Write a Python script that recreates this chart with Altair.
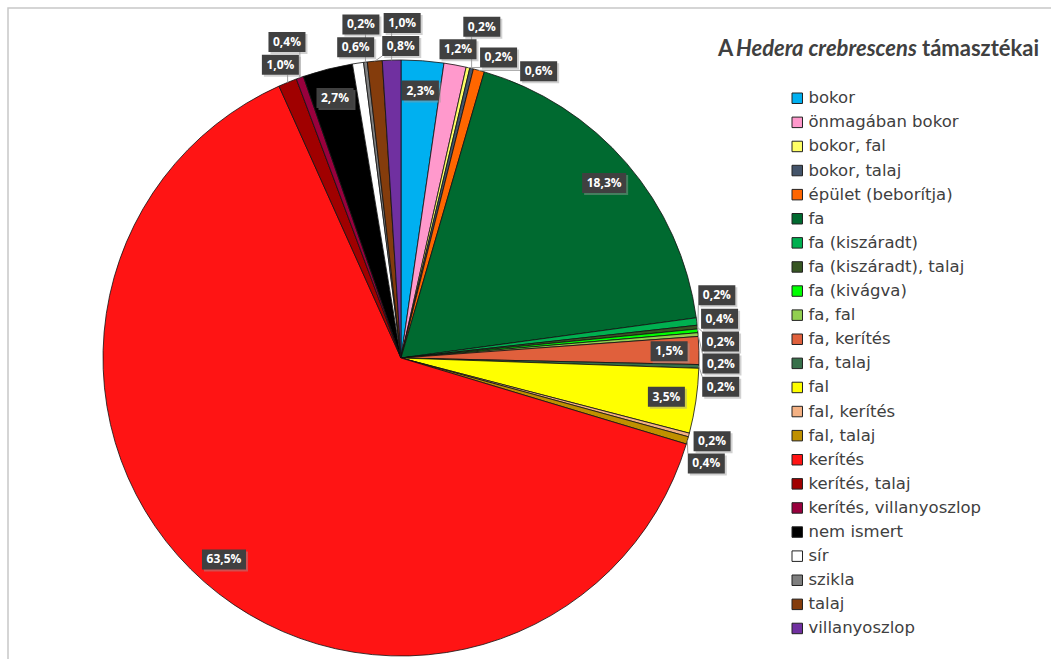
import math
import numpy as np
import pandas as pd
import altair as alt

# ---------------- data ----------------
categories = [
    "bokor", "önmagában bokor", "bokor, fal", "bokor, talaj", "épület (beborítja)",
    "fa", "fa (kiszáradt)", "fa (kiszáradt), talaj", "fa (kivágva)", "fa, fal",
    "fa, kerítés", "fa, talaj", "fal", "fal, kerítés", "fal, talaj", "kerítés",
    "kerítés, talaj", "kerítés, villanyoszlop", "nem ismert", "sír", "szikla",
    "talaj", "villanyoszlop",
]
percent = [2.3, 1.2, 0.2, 0.2, 0.6, 18.3, 0.4, 0.2, 0.2, 0.2, 1.5, 0.2, 3.5,
           0.2, 0.4, 63.5, 1.0, 0.4, 2.7, 0.6, 0.2, 0.8, 1.0]
colors = [
    "#00B0F0", "#FF99CC", "#FFFF66", "#44546A", "#FF6600",
    "#006A30", "#00B050", "#375623", "#00FF00", "#92D050",
    "#E0603C", "#38704A", "#FFFF00", "#F4B183", "#BF9000", "#FF1414",
    "#A00000", "#99003D", "#000000", "#FFFFFF", "#7F7F7F",
    "#843C0C", "#7030A0",
]

# ---------------- layout ----------------
W, H = 1051, 659
CX, CY, R = 401.0, 358.0, 298.0
xs = alt.Scale(domain=[-CX / R, (W - CX) / R], nice=False, zero=False)
ys = alt.Scale(domain=[(CY - H) / R, CY / R], nice=False, zero=False)

def ux(px):
    return (px - CX) / R

def uy(py):
    return (CY - py) / R

def polar(a, r):
    return CX + r * math.sin(a), CY - r * math.cos(a)

total = sum(percent)
mids = []
cum = 0.0
for v in percent:
    a0 = cum / total * 2 * math.pi
    cum += v
    a1 = cum / total * 2 * math.pi
    mids.append((a0 + a1) / 2)

texts = [f"{v:.1f}%".replace(".", ",") for v in percent]
BH = 20

def box_of(cx, cy, w, h):
    return (cx - w / 2, cy - h / 2, cx + w / 2, cy + h / 2)

def overlap(b1, b2, m=2):
    return not (b1[2] + m <= b2[0] or b2[2] + m <= b1[0] or
                b1[3] + m <= b2[1] or b2[3] + m <= b1[1])

def nearest_dist(b):
    nx = min(max(CX, b[0]), b[2])
    ny = min(max(CY, b[1]), b[3])
    return math.hypot(nx - CX, ny - CY)

forbidden = [(700, 20, 1051, 68), (785, 84, 1051, 645)]

placed = [None] * len(percent)
inside = [v >= 1.5 for v in percent]
for i, v in enumerate(percent):
    if inside[i]:
        w = 7 * len(texts[i]) + 9
        cx, cy = polar(mids[i], 0.9 * R)
        placed[i] = box_of(cx, cy, w, BH)

for i, v in enumerate(percent):
    if inside[i]:
        continue
    w = 7 * len(texts[i]) + 9
    best, bestc = None, 1e9
    for dd in np.arange(-30, 30.01, 0.5):
        a = mids[i] + math.radians(dd)
        for rr in range(int(R) - 5, int(R) + 160):
            cx, cy = polar(a, rr)
            b = box_of(cx, cy, w, BH)
            nd = nearest_dist(b)
            if nd < R + 3:
                continue
            if b[0] < 14 or b[1] < 11 or b[3] > 650:
                continue
            if any(overlap(b, f, 0) for f in forbidden):
                continue
            if any(p is not None and overlap(b, p) for p in placed):
                continue
            c = (nd - R) + 4 * abs(dd)
            if c < bestc:
                bestc, best = c, b
            break
    if best is None:
        cx, cy = polar(mids[i], R + 25)
        best = box_of(cx, cy, w, BH)
    placed[i] = best

rows, lines = [], []
for i, b in enumerate(placed):
    rows.append({
        "cat": categories[i], "label": texts[i],
        "cx": ux((b[0] + b[2]) / 2), "cy": uy((b[1] + b[3]) / 2),
        "bx1": ux(b[0]), "bx2": ux(b[2]), "by1": uy(b[1]), "by2": uy(b[3]),
        "sx1": ux(b[0] + 2), "sx2": ux(b[2] + 2), "sy1": uy(b[1] + 2), "sy2": uy(b[3] + 2),
    })
    if not inside[i]:
        px, py = polar(mids[i], R)
        qx = min(max(px, b[0]), b[2])
        qy = min(max(py, b[1]), b[3])
        if math.hypot(qx - px, qy - py) > 6:
            lines.append({"x": ux(px), "y": uy(py), "x2": ux(qx), "y2": uy(qy)})

pie_df = pd.DataFrame({"cat": categories, "value": percent, "idx": list(range(len(percent)))})
lab_df = pd.DataFrame(rows)
line_df = pd.DataFrame(lines)

frame = alt.Chart(pd.DataFrame({"a": [0]})).mark_rect(
    fill=None, stroke="#C8C8C8", strokeWidth=1.5
).encode(x=alt.value(8), x2=alt.value(1070), y=alt.value(8), y2=alt.value(680))

pie = alt.Chart(pie_df).mark_arc(outerRadius=R, stroke="#111111", strokeWidth=0.8).encode(
    theta=alt.Theta("value:Q", stack=True),
    order=alt.Order("idx:Q"),
    color=alt.Color(
        "cat:N",
        scale=alt.Scale(domain=categories, range=colors),
        sort=categories,
        legend=alt.Legend(
            title=None, orient="none", legendX=789, legendY=90,
            symbolType="square", symbolSize=110, symbolStrokeColor="#222222",
            symbolStrokeWidth=1, symbolOpacity=1,
            labelFont="DejaVu Sans", labelFontSize=16.5, labelColor="#404040",
            labelOffset=3, rowPadding=7.1, labelLimit=300,
        ),
    ),
    x=alt.XDatum(0, type="quantitative", scale=xs, axis=None),
    y=alt.YDatum(0, type="quantitative", scale=ys, axis=None),
)

leaders = alt.Chart(line_df).mark_rule(color="#A0A0A0", strokeWidth=1).encode(
    x=alt.X("x:Q", scale=xs, axis=None), y=alt.Y("y:Q", scale=ys, axis=None),
    x2="x2:Q", y2="y2:Q",
)

shadow = alt.Chart(lab_df).mark_rect(color="#9A9A9A", opacity=0.45).encode(
    x=alt.X("sx1:Q", scale=xs, axis=None), x2="sx2:Q",
    y=alt.Y("sy1:Q", scale=ys, axis=None), y2="sy2:Q",
)
boxes = alt.Chart(lab_df).mark_rect(color="#404040").encode(
    x=alt.X("bx1:Q", scale=xs, axis=None), x2="bx2:Q",
    y=alt.Y("by1:Q", scale=ys, axis=None), y2="by2:Q",
)
labels = alt.Chart(lab_df).mark_text(
    font="Open Sans", fontWeight="bold", fontSize=12, color="white"
).encode(
    x=alt.X("cx:Q", scale=xs, axis=None), y=alt.Y("cy:Q", scale=ys, axis=None),
    text="label:N",
)

tdf = pd.DataFrame({"a": [0]})
t1 = alt.Chart(tdf).mark_text(text="A", font="Lato", fontSize=22, fontWeight="bold",
                              color="#404040", align="left", baseline="middle").encode(
    x=alt.value(718), y=alt.value(49))
t2 = alt.Chart(tdf).mark_text(text="Hedera crebrescens", font="Lato", fontSize=22,
                              fontWeight="bold", fontStyle="italic", color="#404040",
                              align="left", baseline="middle").encode(
    x=alt.value(736), y=alt.value(49))
t3 = alt.Chart(tdf).mark_text(text="támasztékai", font="Lato", fontSize=22, fontWeight="bold",
                              color="#404040", align="left", baseline="middle").encode(
    x=alt.value(922), y=alt.value(49))

chart = alt.layer(frame, pie, leaders, shadow, boxes, labels, t1, t2, t3).properties(
    width=W, height=H, padding=0, autosize=alt.AutoSizeParams(type="none"),
    background="white",
).configure_view(stroke=None)

chart.save("out.html", embed_options={"renderer": "svg", "actions": False})
